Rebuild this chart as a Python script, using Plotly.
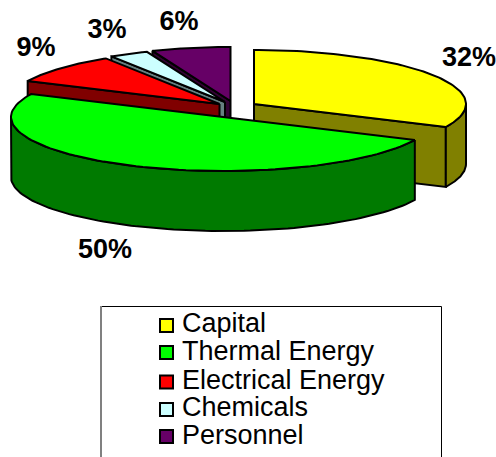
import numpy as np
import plotly.graph_objects as go

# Cost breakdown, in percent, clockwise from twelve o'clock
categories = ["Capital", "Thermal Energy", "Electrical Energy", "Chemicals", "Personnel"]
shares = [32, 50, 9, 3, 6]

top_colors = ["#FFFF00", "#00FF00", "#FF0000", "#CCFFFF", "#660066"]
side_colors = ["#808000", "#007A00", "#800000", "#668080", "#330033"]

# Exploded centre of each slice on the page (pixels, y pointing down)
centers_x = [254, 223, 219.5, 225, 230.5]
centers_y = [104, 117, 104, 102, 101]

RX, RY, DEPTH = 212, 54, 60
W, H = 496, 457
INK = "#000000"

# Percent labels and legend rows
label_x = [469, 105, 36, 107, 179]
label_y = [59, 251, 49, 31, 23]
legend_y = [325.5, 352.5, 382, 409.5, 436.5]
legend_text_y = [325, 353, 382, 409.5, 437.5]


def rim(cx, cy, start, end, n=90):
    """Points along the outer edge of the ellipse between two clockwise angles."""
    t = np.radians(np.linspace(start, end, n))
    return cx + RX * np.sin(t), cy - RY * np.cos(t)


def polygon(fig, xs, ys, color):
    xs, ys = list(xs), list(ys)
    fig.add_trace(go.Scatter(
        x=xs + xs[:1], y=ys + ys[:1], mode="lines", fill="toself",
        fillcolor=color, line=dict(color=INK, width=2),
        hoverinfo="skip", showlegend=False,
    ))


def radial_face(fig, cx, cy, angle, color):
    ex, ey = rim(cx, cy, angle, angle, 1)
    polygon(fig, [cx, ex[0], ex[0], cx], [cy, ey[0], ey[0] + DEPTH, cy + DEPTH], color)


def draw_slice(fig, i, start, end):
    cx, cy = centers_x[i], centers_y[i]
    # A cut face shows only when it turns towards the viewer
    if np.sin(np.radians(start)) < 0:
        radial_face(fig, cx, cy, start, side_colors[i])
    if np.sin(np.radians(end)) > 0:
        radial_face(fig, cx, cy, end, side_colors[i])
    # The curved wall shows on the front half of the ellipse
    lo, hi = max(start, 90), min(end, 270)
    if lo < hi:
        wx, wy = rim(cx, cy, lo, hi)
        polygon(fig, np.r_[wx, wx[::-1]], np.r_[wy, wy[::-1] + DEPTH], side_colors[i])
    tx, ty = rim(cx, cy, start, end)
    polygon(fig, np.r_[cx, tx], np.r_[cy, ty], top_colors[i])


edges = np.cumsum([0] + shares) * 3.6
fig = go.Figure()

# Back slices first so the nearer ones paint over them
for i in [4, 3, 2, 0, 1]:
    draw_slice(fig, i, edges[i], edges[i + 1])

fig.add_trace(go.Scatter(
    x=label_x, y=label_y, mode="text", text=[f"{v}%" for v in shares],
    textposition="middle center",
    textfont=dict(family="Liberation Sans", size=27, color="#000000", weight="bold"),
    hoverinfo="skip", showlegend=False,
))

# Legend: framed box, swatches and names
fig.add_shape(type="rect", x0=101.5, x1=441.5, y0=306.5, y1=475,
              line=dict(color=INK, width=1), fillcolor="white", layer="below")
fig.add_shape(type="line", x0=101, x1=101, y0=306, y1=475,
              line=dict(color="#808080", width=2), layer="below")
fig.add_trace(go.Scatter(
    x=[166.5] * 5, y=legend_y, mode="markers",
    marker=dict(symbol="square", size=13, color=top_colors, line=dict(color=INK, width=2)),
    hoverinfo="skip", showlegend=False,
))
fig.add_trace(go.Scatter(
    x=[182] * 5, y=legend_text_y, mode="text", text=categories,
    textposition="middle right",
    textfont=dict(family="Liberation Sans", size=27, color="#000000"),
    hoverinfo="skip", showlegend=False,
))

fig.update_layout(
    width=W, height=H, margin=dict(l=0, r=0, t=0, b=0),
    paper_bgcolor="white", plot_bgcolor="white",
    xaxis=dict(range=[0, W], visible=False, fixedrange=True),
    yaxis=dict(range=[H, 0], visible=False, fixedrange=True),
)
fig.write_html("out.html", config=dict(displayModeBar=False))
